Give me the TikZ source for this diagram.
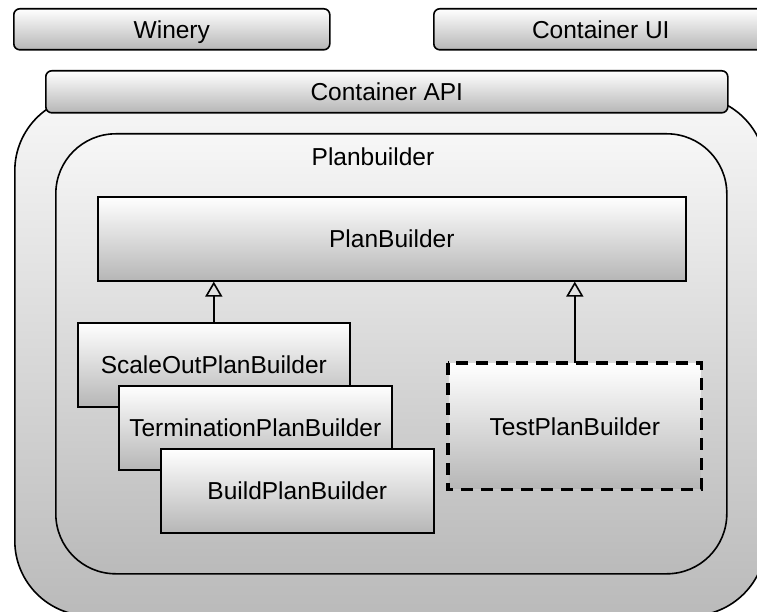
\documentclass[tikz,border=0pt]{standalone}
\usepackage{fontspec}
\setmainfont{Liberation Sans}
\usetikzlibrary{arrows.meta}
\definecolor{shadelo}{HTML}{B6B6B6}
\definecolor{shadehi}{HTML}{FFFFFF}
\definecolor{paneltop}{HTML}{F7F7F7}
\definecolor{panelbot}{HTML}{BABABA}
\begin{document}
\begin{tikzpicture}[x=1pt,y=-1pt,
  lbl/.style={font=\fontsize{24.5}{28}\selectfont, text height=17.5pt, text depth=0pt},
  box/.style={draw=black, line width=1.6pt, top color=shadehi, bottom color=shadelo,
    inner sep=0pt, anchor=north west, lbl},
  roundbox/.style={box, rounded corners=6pt},
  panel/.style={draw=black, line width=1.6pt, top color=paneltop, bottom color=panelbot,
    inner sep=0pt, anchor=north west},
  dashbox/.style={box, draw=none},
  dashframe/.style={draw=black, line width=3.6pt, dash pattern=on 12pt off 8pt},
  inherit/.style={draw=black, line width=1.6pt,
    -{Triangle[open, length=15pt, width=17pt, line width=1.6pt]}}
]
\useasboundingbox (0,0) rectangle (757,612);
\clip (0,0) rectangle (757,612);

% top level tools
\node[roundbox, minimum width=316pt, minimum height=41pt] (winery) at (13,8) {Winery};
\node[roundbox, minimum width=334pt, minimum height=41pt] (ui) at (433,8) {Container UI};

% container with its API on top
\node[panel, rounded corners=75pt, minimum width=751pt, minimum height=520pt] (container) at (14,95) {};
\node[roundbox, minimum width=682pt, minimum height=42pt] (api) at (45,70) {Container API};

% plan builder package
\node[panel, rounded corners=60pt, minimum width=671pt, minimum height=440pt] (pkg) at (55,133) {};
\node[lbl] (pkglabel) at (373,157) {Planbuilder};

% abstract plan builder
\node[box, minimum width=588pt, minimum height=84pt] (base) at (97,196) {PlanBuilder};

% concrete plan builders, stacked
\node[box, minimum width=272pt, minimum height=84pt] (scaleout) at (77,322) {ScaleOutPlanBuilder};
\node[box, minimum width=273pt, minimum height=84pt] (termination) at (118,385) {TerminationPlanBuilder};
\node[box, minimum width=273pt, minimum height=84pt] (build) at (160,448) {BuildPlanBuilder};

% test plan builder with dashed frame
\node[dashbox, minimum width=252pt, minimum height=125pt] (test) at (448,363) {TestPlanBuilder};
\draw[dashframe] (test.north west) rectangle (test.south east);

% inheritance arrows
\draw[inherit] (scaleout.north) -- (scaleout.north |- base.south);
\draw[inherit] (test.north) -- (test.north |- base.south);
\end{tikzpicture}
\end{document}
